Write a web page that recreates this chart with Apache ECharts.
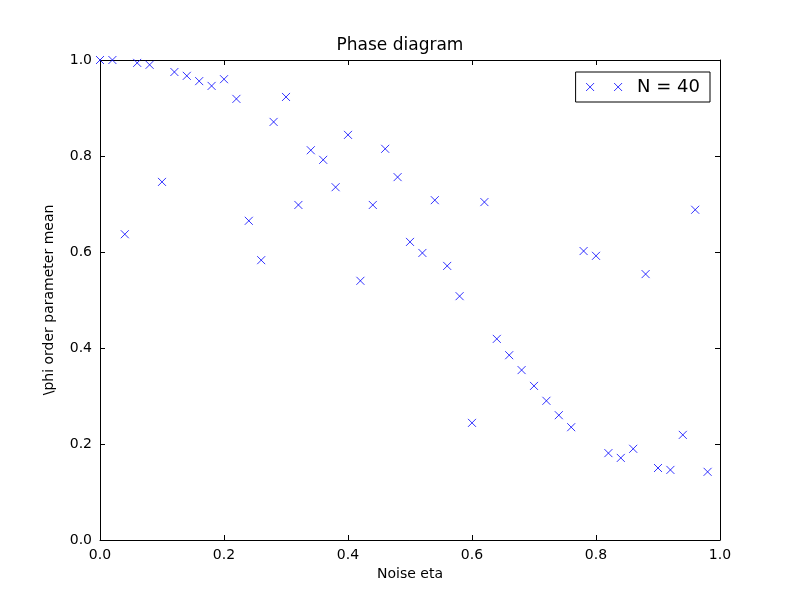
<!DOCTYPE html>
<html>
<head>
<meta charset="utf-8">
<script src="https://cdn.jsdelivr.net/npm/echarts@6/dist/echarts.min.js"></script>
<style>html,body{margin:0;padding:0;background:#fff}#main{width:800px;height:600px}</style>
</head>
<body>
<div id="main"></div>
<script>
// noise values and phi mean
let etaValues = [0.00,0.02,0.04,0.06,0.08,0.10,0.12,0.14,0.16,0.18,0.20,0.22,0.24,0.26,0.28,0.30,0.32,0.34,0.36,0.38,0.40,0.42,0.44,0.46,0.48,0.50,0.52,0.54,0.56,0.58,0.60,0.62,0.64,0.66,0.68,0.70,0.72,0.74,0.76,0.78,0.80,0.82,0.84,0.86,0.88,0.90,0.92,0.94,0.96,0.98];
let phiValues = [1.0,1.0,0.637,0.994,0.99,0.746,0.975,0.967,0.956,0.946,0.960,0.919,0.665,0.583,0.871,0.923,0.698,0.812,0.792,0.735,0.844,0.540,0.698,0.815,0.756,0.621,0.598,0.708,0.571,0.508,0.244,0.704,0.419,0.385,0.354,0.321,0.290,0.260,0.235,0.602,0.592,0.181,0.171,0.190,0.554,0.150,0.146,0.219,0.688,0.142];
let seriesName = "N = 40";

let points = etaValues.map(function(e, i) { return [e, phiValues[i]]; });
let xMark = "path://M0,0L10,10M10,0L0,10";
let font = "DejaVu Sans";

function axis(pos, show, name) {
	return {
		type: "value", position: pos, min: 0, max: 1, interval: 0.2,
		name: name, nameLocation: "middle", nameGap: pos == "left" ? 44 : 24,
		nameTextStyle: {fontFamily: font, fontSize: 14, color: "#000"},
		axisLine: {show: true, onZero: false, lineStyle: {color: "#000"}},
		axisTick: {show: true, inside: true, length: 5, lineStyle: {color: "#000"}},
		axisLabel: {show: show, fontFamily: font, fontSize: 14, color: "#000", margin: 8,
			formatter: function(v) { return v.toFixed(1); }},
		splitLine: {show: false}
	};
}

let myChart = echarts.init(document.getElementById("main"));
myChart.setOption({
	animation: false,
	title: {text: "Phase diagram", left: "center", top: 32,
		textStyle: {fontFamily: font, fontSize: 17, fontWeight: "normal", color: "#000"}},
	grid: {left: 100, right: 80, top: 60, bottom: 60},
	xAxis: [axis("bottom", true, "Noise eta"), axis("top", false, "")],
	yAxis: [axis("left", true, "\\phi order parameter mean"), axis("right", false, "")],
	legend: {
		right: 90, top: 72, orient: "vertical",
		borderColor: "#000", borderWidth: 1, borderRadius: 0,
		padding: [6, 10, 6, 8], itemWidth: 36, itemHeight: 8, itemGap: 5,
		icon: "path://M0,0L8,8M8,0L0,8M28,0L36,8M36,0L28,8",
		textStyle: {fontFamily: font, fontSize: 18, color: "#000", padding: [0, 0, 0, 10]},
		data: [{name: seriesName, itemStyle: {color: "none", borderColor: "#0000ff", borderWidth: 1}}]
	},
	series: [{
		name: seriesName, type: "scatter", data: points,
		symbol: xMark, symbolSize: 8,
		itemStyle: {color: "none", borderColor: "#0000ff", borderWidth: 1}
	}]
});
</script>
</body>
</html>
